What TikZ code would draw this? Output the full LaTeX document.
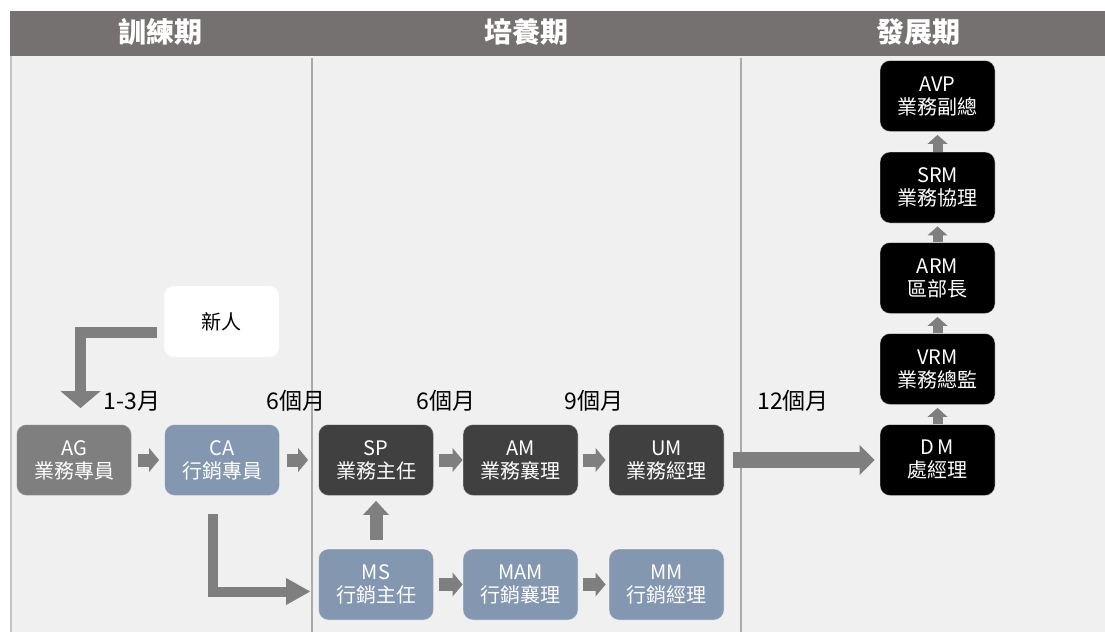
\documentclass[tikz,border=0pt]{standalone}
\usepackage{fontspec}
\setmainfont{Noto Sans CJK TC}
\usetikzlibrary{arrows.meta}
\definecolor{hdrc}{HTML}{767171}
\definecolor{bgc}{HTML}{F0F0F0}
\definecolor{sepc}{HTML}{ABABAB}
\definecolor{agc}{HTML}{7F7F7F}
\definecolor{bluec}{HTML}{8497B0}
\definecolor{darkc}{HTML}{404040}
\definecolor{arrc}{HTML}{7F7F7F}
\tikzset{
  box/.style={rounded corners=10pt, minimum width=115pt, minimum height=71pt,
    inner sep=0pt, align=center, text=white, draw=white, draw opacity=0.45, line width=0.8pt,
    font=\fontsize{20}{23}\selectfont},
  lbl/.style={font=\fontsize{23}{26}\selectfont, text=black, inner sep=0pt},
  hdr/.style={font=\fontsize{28}{30}\selectfont\bfseries, text=white, inner sep=0pt},
  sepline/.style={draw=sepc, line width=2pt},
  harr/.style={draw=arrc, line width=13pt, -{Triangle[width=24pt,length=10pt,line width=0pt]}},
  varr/.style={draw=arrc, line width=10pt, -{Triangle[width=20pt,length=9pt,line width=0pt]}},
}
\begin{document}
\begin{tikzpicture}[x=1pt,y=-1pt]
\useasboundingbox (0,0) rectangle (1105,632);
\fill[white] (0,0) rectangle (1105,632);
\fill[hdrc] (10,11) rectangle (1105,56);
\fill[bgc] (10,56) rectangle (1105,632);
\draw[draw=sepc!70, line width=1.5pt] (10.75,56) -- (10.75,632);
\draw[sepline] (312,58) -- (312,632);
\draw[sepline] (741,58) -- (741,632);

\node[hdr] (h1) at (160,32) {訓練期};
\node[hdr] (h2) at (526,32) {培養期};
\node[hdr] (h3) at (918,32) {發展期};

% boxes
\node[box, fill=white, text=black, draw=none] (new) at (221.5,321.5) {新人};
\node[box, fill=agc] (AG) at (74,460) {AG\\業務專員};
\node[box, fill=bluec] (CA) at (222,460) {CA\\行銷專員};
\node[box, fill=darkc] (SP) at (376,460) {SP\\業務主任};
\node[box, fill=darkc] (AM) at (520.5,460) {AM\\業務襄理};
\node[box, fill=darkc] (UM) at (666.5,460) {UM\\業務經理};
\node[box, fill=bluec] (MS) at (376,584.5) {MS\\行銷主任};
\node[box, fill=bluec] (MAM) at (520.5,584.5) {MAM\\行銷襄理};
\node[box, fill=bluec] (MM) at (666.5,584.5) {MM\\行銷經理};
\node[box, fill=black] (DM) at (937.5,460) {D\,M\\處經理};
\node[box, fill=black] (VRM) at (937.5,369) {VRM\\業務總監};
\node[box, fill=black] (ARM) at (937.5,278) {ARM\\區部長};
\node[box, fill=black] (SRM) at (937.5,187.5) {SRM\\業務協理};
\node[box, fill=black] (AVP) at (937.5,96) {AVP\\業務副總};

% labels
\node[lbl] (l1) at (132,401) {1-3月};
\node[lbl] (l2) at (296,401) {6個月};
\node[lbl] (l3) at (446,401) {6個月};
\node[lbl] (l4) at (594,401) {9個月};
\node[lbl] (l5) at (793,401) {12個月};

% horizontal arrows
\draw[harr] ([xshift=6pt]AG.east) -- ([xshift=-5pt]CA.west);
\draw[harr] ([xshift=7pt]CA.east) -- ([xshift=-10pt]SP.west);
\draw[harr] ([xshift=5pt]SP.east) -- ([xshift=0pt]AM.west);
\draw[harr] ([xshift=5pt]AM.east) -- ([xshift=-3pt]UM.west);
\draw[harr] ([xshift=5pt]MS.east) -- ([xshift=0pt]MAM.west);
\draw[harr] ([xshift=5pt]MAM.east) -- ([xshift=-3pt]MM.west);
\draw[draw=arrc, line width=16pt, -{Triangle[width=30pt,length=15pt,line width=0pt]}]
  ([xshift=9pt]UM.east) -- ([xshift=-5pt]DM.west);
\draw[draw=arrc, line width=13pt, -{Triangle[width=26pt,length=14pt,line width=0pt]}]
  ([yshift=9pt]MS.north) -- ([yshift=-5pt]SP.south);

% vertical arrows in right column
\draw[varr] (DM.north) -- ([yshift=-3pt]VRM.south);
\draw[varr] (VRM.north) -- ([yshift=-3pt]ARM.south);
\draw[varr] (ARM.north) -- ([yshift=-3pt]SRM.south);
\draw[varr] (SRM.north) -- ([yshift=-3pt]AVP.south);

% elbow arrows
\coordinate (tipA) at ([shift={(6.5,-16)}]AG.north);
\draw[draw=arrc, line width=11pt, -{Triangle[width=40pt,length=17pt,line width=0pt]}]
  ([shift={(-7,10.5)}]new.west) -| (tipA);
\coordinate (tipB) at ([shift={(-8,7)}]MS.west);
\draw[draw=arrc, line width=10pt, -{Triangle[width=27pt,length=24pt,line width=0pt]}]
  ([shift={(-9,18)}]CA.south) |- (tipB);
\end{tikzpicture}
\end{document}
